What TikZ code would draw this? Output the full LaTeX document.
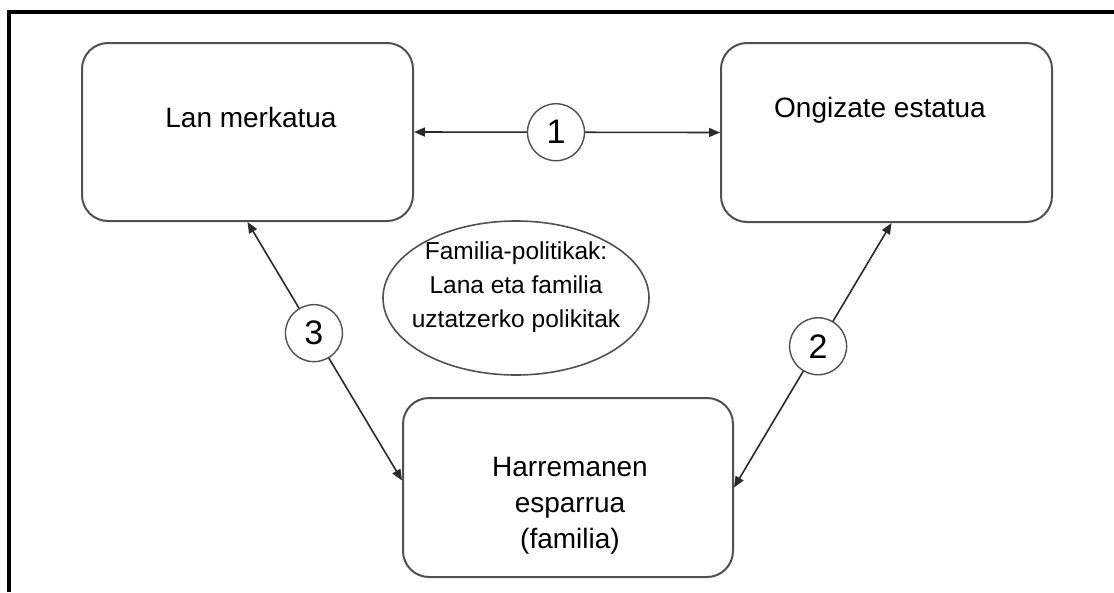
\documentclass[tikz,border=0pt]{standalone}
\usepackage{fontspec}
\setmainfont{Liberation Sans}
\usetikzlibrary{arrows.meta,shapes.geometric}
\definecolor{boxgray}{HTML}{505050}
\definecolor{linegray}{HTML}{2A2A2A}
\tikzset{
  rbox/.style={draw=boxgray, line width=2pt, rounded corners=26pt, fill=white, inner sep=0pt},
  boxtxt/.style={font=\fontsize{28}{36}\selectfont, align=center, inner sep=0pt},
  elltxt/.style={font=\fontsize{24.5}{34}\selectfont, align=center, inner sep=0pt},
  oval/.style={draw=boxgray, line width=1.6pt, ellipse, inner sep=0pt, fill=white},
  numcirc/.style={draw=boxgray, line width=1.4pt, circle, fill=white, minimum size=57pt, inner sep=0pt, font=\fontsize{34}{34}\selectfont},
  conn/.style={draw=linegray, line width=1.6pt, {Triangle[length=11pt,width=9pt]}-{Triangle[length=11pt,width=9pt]}},
  frameline/.style={draw=black, line width=4.5pt}
}
\begin{document}
\begin{tikzpicture}[x=1pt,y=-1pt]
\useasboundingbox (0,0) rectangle (1114,592);
\fill[white] (0,0) rectangle (1114,592);
% outer frame (only left and top visible)
\coordinate (fbl) at (9,592);
\coordinate (ftl) at (9,12);
\coordinate (ftr) at (1114,12);
\draw[frameline] (fbl) -- (ftl) -- (ftr);
% boxes
\node[rbox, minimum width=331pt, minimum height=178pt] (A) at (247.5,132) {};
\node[boxtxt] (At) at (251,117) {Lan merkatua};
\node[rbox, minimum width=331pt, minimum height=179pt] (B) at (886.5,132.5) {};
\node[boxtxt] (Bt) at (880,110) {Ongizate estatua};
\node[rbox, minimum width=330pt, minimum height=179pt] (C) at (568,487.5) {};
\node[boxtxt] (Ct) at (570,506) {Harremanen\\esparrua\\(familia)};
% ellipse
\node[oval, minimum width=266pt, minimum height=154pt] (E) at (516,298) {};
\node[elltxt] (Et) at (516,287) {Familia-politikak:\\Lana eta familia\\uztatzerko polikitak};
% connectors
\draw[conn] (A.east) -- (B.west) node[numcirc, pos=0.464] (c1) {1};
\draw[conn] (A.south) -- ([yshift=7pt]C.west) node[numcirc, pos=0.43] (c3) {3};
\draw[conn] ([xshift=5pt]B.south) -- (C.east) node[numcirc, pos=0.466] (c2) {2};
\end{tikzpicture}
\end{document}
